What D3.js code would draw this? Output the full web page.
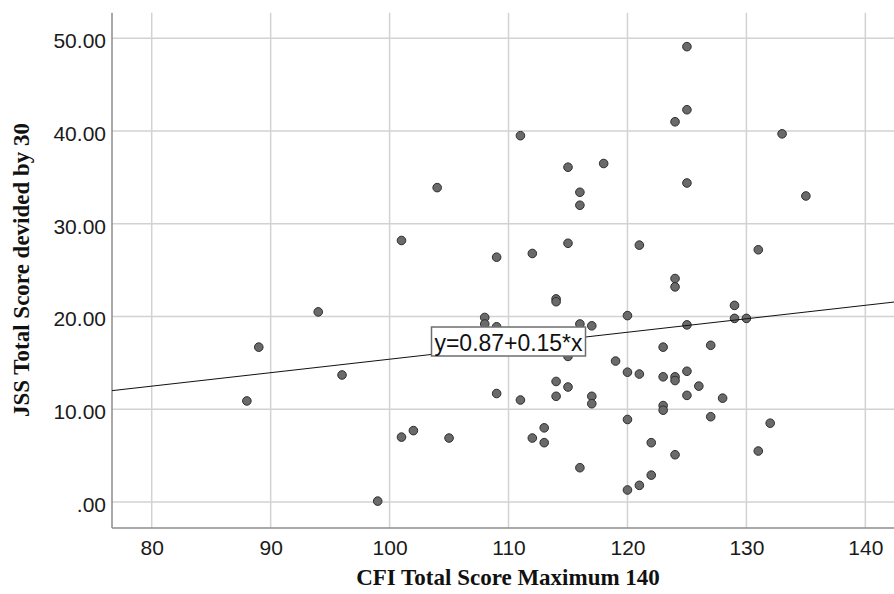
<!DOCTYPE html>
<html lang="en">
<head>
<meta charset="UTF-8">
<title>CFI vs JSS</title>
<script src="https://cdn.jsdelivr.net/npm/d3@7"></script>
<style>
  body { margin: 0; background: #fff; }
  svg { display: block; }
</style>
</head>
<body>
<div id="chart"></div>
<script>
// CFI total score (x) and JSS total score / 30 (y), one entry per respondent
let cfiScores = [88, 89, 94, 96, 99, 101, 101, 102, 104, 105,
  108, 108, 109, 109, 109, 111, 111, 112, 112, 113,
  113, 114, 114, 114, 114, 115, 115, 115, 115, 116,
  116, 116, 116, 117, 117, 117, 118, 119, 120, 120,
  120, 120, 121, 121, 121, 122, 122, 123, 123, 123,
  123, 124, 124, 124, 124, 124, 124, 125, 125, 125,
  125, 125, 125, 126, 127, 127, 128, 129, 129, 130,
  131, 131, 132, 133, 135]
let jssScores = [10.9, 16.7, 20.5, 13.7, 0.1, 28.2, 7.0, 7.7, 33.9, 6.9,
  19.9, 19.2, 26.4, 18.9, 11.7, 39.5, 11.0, 26.8, 6.9, 8.0,
  6.4, 21.9, 21.6, 13.0, 11.4, 36.1, 27.9, 15.7, 12.4, 33.4,
  32.0, 19.2, 3.7, 19.0, 11.4, 10.6, 36.5, 15.2, 20.1, 14.0,
  8.9, 1.3, 27.7, 13.8, 1.8, 6.4, 2.9, 16.7, 13.5, 10.4,
  9.9, 41.0, 24.1, 23.2, 13.5, 13.1, 5.1, 49.1, 42.3, 34.4,
  19.1, 14.1, 11.5, 12.5, 16.9, 9.2, 11.2, 21.2, 19.8, 19.8,
  27.2, 5.5, 8.5, 39.7, 33.0]

let xTicks = [80, 90, 100, 110, 120, 130, 140]
let yTicks = [0, 10, 20, 30, 40, 50]

// fit line as drawn (label shows rounded values)
let fitIntercept = 0.87
let fitSlope = 0.1453
let fitLabel = 'y=0.87+0.15*x'

let xTitle = 'CFI Total Score Maximum 140'
let yTitle = 'JSS Total Score devided by 30'

let width = 894, height = 594
let pLeft = 112, pRight = 894, pTop = 12.7, pBottom = 528

let x = d3.scaleLinear().domain([76.66, 142.41]).range([pLeft, pRight])
let y = d3.scaleLinear().domain([-2.8, 52.76]).range([pBottom, pTop])

let svg = d3.select('#chart').append('svg')
  .attr('width', width).attr('height', height)

svg.append('defs').append('clipPath').attr('id', 'plotClip')
  .append('rect').attr('x', pLeft).attr('y', pTop)
  .attr('width', pRight - pLeft).attr('height', pBottom - pTop)

// grid
let grid = svg.append('g')
grid.selectAll('.gx').data(xTicks).join('line')
  .attr('class', 'gx')
  .attr('x1', d => x(d)).attr('x2', d => x(d))
  .attr('y1', pTop).attr('y2', pBottom)
  .attr('stroke', '#d2d2d2').attr('stroke-width', 1.5)
grid.selectAll('.gy').data(yTicks).join('line')
  .attr('class', 'gy')
  .attr('x1', pLeft).attr('x2', pRight)
  .attr('y1', d => y(d)).attr('y2', d => y(d))
  .attr('stroke', '#d2d2d2').attr('stroke-width', 1.5)

// axes
let xAxis = d3.axisBottom(x).tickValues(xTicks).tickSize(0).tickPadding(12)
  .tickFormat(d3.format('d'))
let yAxis = d3.axisLeft(y).tickValues(yTicks).tickSize(0).tickPadding(6)
  .tickFormat(d => d === 0 ? '.00' : d3.format('.2f')(d))

let gx = svg.append('g').attr('transform', 'translate(0,' + pBottom + ')').call(xAxis)
let gy = svg.append('g').attr('transform', 'translate(' + pLeft + ',0)').call(yAxis)
gx.select('.domain').remove()
gy.select('.domain').remove()
gx.selectAll('text').attr('font-family', '"Liberation Sans", Arial, sans-serif')
  .attr('font-size', 21).attr('fill', '#1a1a1a')
gy.selectAll('text').attr('font-family', '"Liberation Sans", Arial, sans-serif')
  .attr('font-size', 21).attr('fill', '#1a1a1a').attr('dy', '0.45em')

svg.append('line').attr('x1', pLeft).attr('x2', pLeft).attr('y1', pTop).attr('y2', pBottom)
  .attr('stroke', '#8c8c8c').attr('stroke-width', 1.5)
svg.append('line').attr('x1', pLeft).attr('x2', pRight).attr('y1', pBottom).attr('y2', pBottom)
  .attr('stroke', '#8c8c8c').attr('stroke-width', 1.5)

// points
let pts = cfiScores.map((c, i) => ({cfi: c, jss: jssScores[i]}))
svg.append('g').selectAll('circle').data(pts).join('circle')
  .attr('cx', d => x(d.cfi)).attr('cy', d => y(d.jss))
  .attr('r', 4.3)
  .attr('fill', '#6a6a6a').attr('stroke', '#2e2e2e').attr('stroke-width', 1)

// fit line
let xd = x.domain()
svg.append('line').attr('clip-path', 'url(#plotClip)')
  .attr('x1', x(xd[0])).attr('y1', y(fitIntercept + fitSlope * xd[0]))
  .attr('x2', x(xd[1])).attr('y2', y(fitIntercept + fitSlope * xd[1]))
  .attr('stroke', '#111').attr('stroke-width', 1)

// fit label
let lab = svg.append('g').attr('transform', 'translate(431.5,327)')
lab.append('rect').attr('width', 154).attr('height', 29)
  .attr('fill', '#fff').attr('stroke', '#6e6e6e').attr('stroke-width', 1.5)
lab.append('text').attr('x', 3).attr('y', 24)
  .attr('font-family', '"Liberation Sans", Arial, sans-serif')
  .attr('font-size', 23).attr('fill', '#111')
  .attr('textLength', 148).attr('lengthAdjust', 'spacingAndGlyphs')
  .text(fitLabel)

// titles
svg.append('text').attr('x', (pLeft + pRight) / 2 + 5).attr('y', 585)
  .attr('text-anchor', 'middle')
  .attr('font-family', '"Liberation Serif", "Times New Roman", serif')
  .attr('font-weight', 'bold').attr('font-size', 23).attr('fill', '#111')
  .text(xTitle)
svg.append('text')
  .attr('transform', 'translate(29,270) rotate(-90)')
  .attr('text-anchor', 'middle')
  .attr('font-family', '"Liberation Serif", "Times New Roman", serif')
  .attr('font-weight', 'bold').attr('font-size', 23).attr('fill', '#111')
  .text(yTitle)
</script>
</body>
</html>
